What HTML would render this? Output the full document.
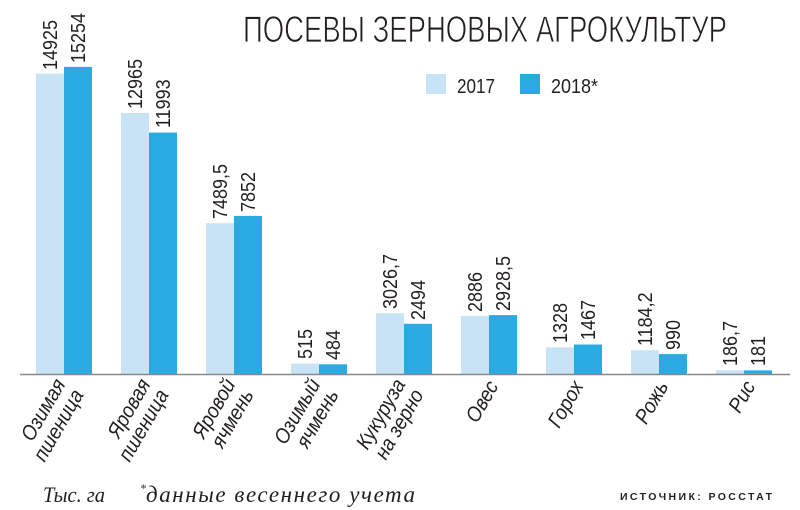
<!DOCTYPE html>
<html><head><meta charset="utf-8"><style>
html,body{margin:0;padding:0;background:#fff;}
svg{display:block;}
.n{font-family:"Liberation Sans",sans-serif;font-size:20px;fill:#231f20;}
.c{font-family:"Liberation Sans",sans-serif;font-size:21px;fill:#231f20;font-style:italic;}
</style></head><body>
<svg width="800" height="510" viewBox="0 0 800 510" xmlns="http://www.w3.org/2000/svg">
<text x="243" y="42" textLength="484" lengthAdjust="spacingAndGlyphs" style="font-family:'Liberation Sans',sans-serif;font-size:37px;fill:#231f20;stroke:#fff;stroke-width:0.8;paint-order:normal">ПОСЕВЫ ЗЕРНОВЫХ АГРОКУЛЬТУР</text>
<rect x="426" y="74" width="20" height="20" fill="#c9e3f6"/>
<text x="457" y="93" class="n" textLength="38" lengthAdjust="spacingAndGlyphs">2017</text>
<rect x="520" y="74" width="20" height="20" fill="#29abe2"/>
<text x="551" y="93" class="n" textLength="47" lengthAdjust="spacingAndGlyphs">2018*</text>
<g fill="#c9e3f6">
<rect x="36" y="73.6" width="28" height="300.4"/>
<rect x="121" y="113" width="28" height="261"/>
<rect x="206" y="223.2" width="28" height="150.8"/>
<rect x="291" y="363.6" width="28" height="10.4"/>
<rect x="376" y="313.1" width="28" height="60.9"/>
<rect x="461" y="315.9" width="28" height="58.1"/>
<rect x="546" y="347.3" width="28" height="26.7"/>
<rect x="631" y="350.2" width="28" height="23.8"/>
<rect x="716" y="370.2" width="28" height="3.8"/>
</g>
<g fill="#29abe2">
<rect x="64" y="66.9" width="28" height="307.1"/>
<rect x="149" y="132.6" width="28" height="241.4"/>
<rect x="234" y="215.9" width="28" height="158.1"/>
<rect x="319" y="364.3" width="28" height="9.7"/>
<rect x="404" y="323.8" width="28" height="50.2"/>
<rect x="489" y="315.1" width="28" height="58.9"/>
<rect x="574" y="344.5" width="28" height="29.5"/>
<rect x="659" y="354.1" width="28" height="19.9"/>
<rect x="744" y="370.4" width="28" height="3.6"/>
</g>
<line x1="20" y1="374.5" x2="790" y2="374.5" stroke="#888" stroke-width="1.5"/>
<g class="n">
<text transform="translate(57,70) rotate(-90) scale(0.9,1)">14925</text>
<text transform="translate(85,63) rotate(-90) scale(0.9,1)">15254</text>
<text transform="translate(142,109) rotate(-90) scale(0.9,1)">12965</text>
<text transform="translate(170,128) rotate(-90) scale(0.9,1)">11993</text>
<text transform="translate(227,219) rotate(-90) scale(0.9,1)">7489,5</text>
<text transform="translate(255,212) rotate(-90) scale(0.9,1)">7852</text>
<text transform="translate(312,359) rotate(-90) scale(0.9,1)">515</text>
<text transform="translate(340,360) rotate(-90) scale(0.9,1)">484</text>
<text transform="translate(397,309) rotate(-90) scale(0.9,1)">3026,7</text>
<text transform="translate(425,320) rotate(-90) scale(0.9,1)">2494</text>
<text transform="translate(482,312) rotate(-90) scale(0.9,1)">2886</text>
<text transform="translate(510,311) rotate(-90) scale(0.9,1)">2928,5</text>
<text transform="translate(567,343) rotate(-90) scale(0.9,1)">1328</text>
<text transform="translate(595,340) rotate(-90) scale(0.9,1)">1467</text>
<text transform="translate(652,346) rotate(-90) scale(0.9,1)">1184,2</text>
<text transform="translate(680,350) rotate(-90) scale(0.9,1)">990</text>
<text transform="translate(737,366) rotate(-90) scale(0.9,1)">186,7</text>
<text transform="translate(765,366) rotate(-90) scale(0.9,1)">181</text>
</g>
<g class="c" text-anchor="end">
<text transform="translate(66,384) rotate(-60) scale(0.9,1)">Озимая<tspan x="0" dy="21">пшеница</tspan></text>
<text transform="translate(151,384) rotate(-60) scale(0.9,1)">Яровая<tspan x="0" dy="21">пшеница</tspan></text>
<text transform="translate(236,384) rotate(-60) scale(0.9,1)">Яровой<tspan x="0" dy="21">ячмень</tspan></text>
<text transform="translate(321,384) rotate(-60) scale(0.9,1)">Озимый<tspan x="0" dy="21">ячмень</tspan></text>
<text transform="translate(406,384) rotate(-60) scale(0.9,1)">Кукуруза<tspan x="0" dy="21">на зерно</tspan></text>
<text transform="translate(499,386) rotate(-60) scale(0.9,1)">Овес</text>
<text transform="translate(584,386) rotate(-60) scale(0.9,1)">Горох</text>
<text transform="translate(669,386) rotate(-60) scale(0.9,1)">Рожь</text>
<text transform="translate(756,386) rotate(-60) scale(0.9,1)">Рис</text>
</g>
<text x="43" y="502" textLength="62" lengthAdjust="spacingAndGlyphs" style="font-family:'Liberation Serif',serif;font-style:italic;font-size:22px;fill:#231f20">Тыс. га</text>
<text x="140" y="492" style="font-family:'Liberation Serif',serif;font-style:italic;font-size:12px;fill:#231f20">*</text>
<text x="146" y="502" textLength="269" lengthAdjust="spacing" style="font-family:'Liberation Serif',serif;font-style:italic;font-size:23px;fill:#231f20">данные весеннего учета</text>
<text x="620" y="500" textLength="152" lengthAdjust="spacing" style="font-family:'Liberation Sans',sans-serif;font-weight:bold;font-size:10.5px;fill:#231f20">ИСТОЧНИК: РОССТАТ</text>
</svg>
</body></html>
